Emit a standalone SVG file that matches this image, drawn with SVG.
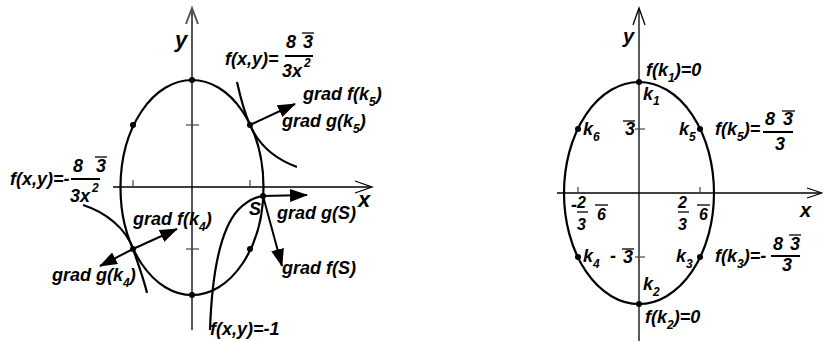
<svg xmlns="http://www.w3.org/2000/svg" width="823" height="341" viewBox="0 0 823 341">
<defs>
<marker id="ah" markerWidth="18" markerHeight="13" refX="17" refY="6.5" orient="auto" markerUnits="userSpaceOnUse"><path d="M0,0 L18,6.5 L0,13 z" fill="#000"/></marker>
</defs>
<style>
text{font-family:"Liberation Sans",Arial,sans-serif;font-weight:bold;font-style:italic;font-size:18px;fill:#000}
.big{font-size:22px}
.sub{font-size:12px}
.frac{font-size:16px}
.curve{fill:none;stroke:#000;stroke-width:2.2}
.axis{fill:none;stroke:#000;stroke-width:1.3}
.gaxis{fill:none;stroke:#555;stroke-width:2}
.tick{stroke:#444;stroke-width:1.2}
.ol{stroke:#000;stroke-width:1.3}
.bar{stroke:#000;stroke-width:2}
.arr{stroke:#000;stroke-width:2;marker-end:url(#ah)}
.dot{fill:#000}
</style>
<rect width="823" height="341" fill="#fff"/>

<g id="left-axes">
<line class="gaxis" x1="192" y1="9" x2="192" y2="330"/>
<polyline class="gaxis" points="186,24 192,8 198,24"/>
<line class="axis" x1="113" y1="187" x2="371" y2="187"/>
<polyline class="axis" points="355,181 372,187 355,193"/>
<line class="tick" x1="186" y1="125" x2="199" y2="125"/>
<line class="tick" x1="186" y1="249" x2="199" y2="249"/>
<line class="tick" x1="133" y1="180" x2="133" y2="187"/>
<line class="tick" x1="250" y1="180" x2="250" y2="187"/>
<text class="big" x="175" y="47">y</text>
<text class="big" x="358" y="207">x</text>
</g>

<g id="left-ellipse">
<ellipse class="curve" cx="192" cy="187.5" rx="71.5" ry="107.5"/>
<circle class="dot" cx="192" cy="80" r="3"/>
<circle class="dot" cx="133" cy="125" r="3"/>
<circle class="dot" cx="250" cy="125" r="3"/>
<circle class="dot" cx="133" cy="249" r="3"/>
<circle class="dot" cx="250" cy="249" r="3"/>
<circle class="dot" cx="192" cy="295" r="3"/>
<circle class="dot" cx="263" cy="196" r="3"/>
</g>

<g id="level-curve-upper">
<path class="curve" d="M237,82 C241,100 245,114 250,125 C260,148 278,160 297,167"/>
<text x="225" y="65">f(x,y)=</text>
<text x="286" y="48">8</text>
<text x="303" y="48">3</text>
<line class="ol" x1="302" y1="33" x2="314" y2="33"/>
<line class="bar" x1="285" y1="56" x2="313" y2="56"/>
<text x="282" y="77">3x</text>
<text class="sub" x="304" y="67">2</text>
</g>

<g id="level-curve-lower">
<path class="curve" d="M83,205 C105,212 126,228 133,249 C139,266 144,280 147,293"/>
<text x="10" y="185">f(x,y)=-</text>
<text x="73" y="172">8</text>
<text x="96" y="172">3</text>
<line class="ol" x1="95" y1="157" x2="107" y2="157"/>
<line class="bar" x1="71" y1="179" x2="100" y2="179"/>
<text x="70" y="202">3x</text>
<text class="sub" x="92" y="192">2</text>
</g>

<g id="level-curve-minus1">
<path class="curve" d="M210,330 C212,272 220,230 238,210 C247,201 254,197 263,196"/>
<text x="210" y="335">f(x,y)=-1</text>
<text x="249" y="215">S</text>
</g>

<g id="connectors">
<line class="arr" x1="250" y1="125" x2="295" y2="104"/>
<line class="arr" x1="133" y1="249" x2="177" y2="229"/>
<line class="arr" x1="133" y1="249" x2="100" y2="266"/>
<line class="arr" x1="263" y1="196" x2="307" y2="195"/>
<line class="arr" x1="263" y1="196" x2="282" y2="266"/>
</g>

<g id="gradient-labels">
<text x="303" y="100">grad f(k<tspan class="sub" dy="6">5</tspan><tspan dy="-6">)</tspan></text>
<text x="282" y="127">grad g(k<tspan class="sub" dy="6">5</tspan><tspan dy="-6">)</tspan></text>
<text x="133" y="225">grad f(k<tspan class="sub" dy="6">4</tspan><tspan dy="-6">)</tspan></text>
<text x="52" y="281">grad g(k<tspan class="sub" dy="6">4</tspan><tspan dy="-6">)</tspan></text>
<text x="277" y="219">grad g(S)</text>
<text x="282" y="274">grad f(S)</text>
</g>

<g id="right-axes">
<line class="axis" x1="639" y1="9" x2="639" y2="341"/>
<polyline class="axis" points="633,25 639,8 645,25"/>
<line class="axis" x1="557" y1="193" x2="821" y2="193"/>
<polyline class="axis" points="807,188 822,193 807,198"/>
<line class="tick" x1="635" y1="129" x2="645" y2="129"/>
<line class="tick" x1="635" y1="257" x2="645" y2="257"/>
<line class="tick" x1="578" y1="187" x2="578" y2="193"/>
<line class="tick" x1="700" y1="187" x2="700" y2="193"/>
<text x="623" y="43" style="font-size:20px">y</text>
<text x="800" y="217" style="font-size:20px">x</text>
<text x="625" y="135">3</text>
<line class="ol" x1="623" y1="121" x2="635" y2="121"/>
<text x="610" y="262">-</text>
<text x="623" y="263">3</text>
<line class="ol" x1="622" y1="249" x2="634" y2="249"/>
<text x="571" y="211">-</text>
<text class="frac" x="577" y="208">2</text>
<line class="ol" x1="577" y1="212" x2="588" y2="212"/>
<text class="frac" x="577" y="230">3</text>
<text class="frac" x="597" y="220">6</text>
<line class="ol" x1="595" y1="205" x2="608" y2="205"/>
<text class="frac" x="678" y="208">2</text>
<line class="ol" x1="678" y1="212" x2="689" y2="212"/>
<text class="frac" x="678" y="230">3</text>
<text class="frac" x="699" y="220">6</text>
<line class="ol" x1="697" y1="205" x2="710" y2="205"/>
</g>

<g id="right-ellipse">
<ellipse class="curve" cx="639" cy="193" rx="75" ry="111"/>
</g>

<g id="k1">
<circle class="dot" cx="639" cy="82" r="3"/>
<text x="646" y="76">f(k<tspan class="sub" dy="6">1</tspan><tspan dy="-6">)=0</tspan></text>
<text x="643" y="100">k<tspan class="sub" dy="5">1</tspan></text>
</g>
<g id="k2">
<circle class="dot" cx="639" cy="304" r="3"/>
<text x="643" y="290">k<tspan class="sub" dy="6">2</tspan></text>
<text x="645" y="323">f(k<tspan class="sub" dy="6">2</tspan><tspan dy="-6">)=0</tspan></text>
</g>
<g id="k3">
<circle class="dot" cx="700" cy="257" r="3"/>
<text x="676" y="262">k<tspan class="sub" dy="6">3</tspan></text>
<text x="715" y="262">f(k<tspan class="sub" dy="6">3</tspan><tspan dy="-6">)=-</tspan></text>
<text x="773" y="250">8</text>
<text x="790" y="250">3</text>
<line class="ol" x1="789" y1="235" x2="801" y2="235"/>
<line class="bar" x1="771" y1="256" x2="800" y2="256"/>
<text x="782" y="271">3</text>
</g>
<g id="k4">
<circle class="dot" cx="578" cy="257" r="3"/>
<text x="583" y="262">k<tspan class="sub" dy="6">4</tspan></text>
</g>
<g id="k5">
<circle class="dot" cx="700" cy="129" r="3"/>
<text x="679" y="135">k<tspan class="sub" dy="6">5</tspan></text>
<text x="715" y="135">f(k<tspan class="sub" dy="6">5</tspan><tspan dy="-6">)=</tspan></text>
<text x="765" y="125">8</text>
<text x="783" y="125">3</text>
<line class="ol" x1="782" y1="111" x2="795" y2="111"/>
<line class="bar" x1="763" y1="132" x2="793" y2="132"/>
<text x="775" y="150">3</text>
</g>
<g id="k6">
<circle class="dot" cx="578" cy="129" r="3"/>
<text x="583" y="135">k<tspan class="sub" dy="6">6</tspan></text>
</g>
</svg>
